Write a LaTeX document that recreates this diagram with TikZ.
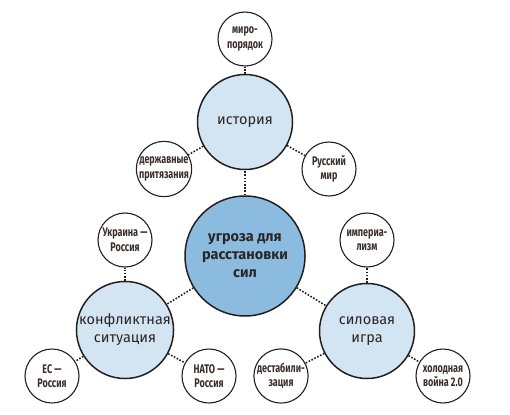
\documentclass[tikz,border=0pt]{standalone}
\usepackage{fontspec}
\setmainfont{Fira Sans}
\newfontfamily\condfont[FakeStretch=0.72,Ligatures=TeX]{Fira Sans}
\definecolor{centerfill}{HTML}{8BBCE0}
\definecolor{midfill}{HTML}{D3E5F3}
\definecolor{edge}{HTML}{231F20}
\definecolor{txt}{HTML}{2A2526}
\definecolor{leaftxt}{HTML}{3A2E2A}
\begin{document}
\begin{tikzpicture}[x=1pt,y=-1pt,
  bubble/.style={circle,draw=edge,line width=1.5pt,inner sep=0pt,align=center,text=txt},
  hub/.style={bubble,fill=centerfill,minimum size=120pt,font=\fontsize{14.5}{18}\selectfont\bfseries},
  midc/.style={bubble,fill=midfill,minimum size=95pt,font=\fontsize{14.5}{18}\selectfont},
  leaf/.style={bubble,fill=white,minimum size=54pt,line width=1.1pt,text=leaftxt,font=\condfont\fontsize{12.5}{14.5}\selectfont\bfseries},
  conn/.style={draw=edge,line width=1.6pt,dash pattern=on 1.6pt off 1.6pt}]
\useasboundingbox (0,0) rectangle (510,414);
\node[hub] (c) at (245,256) {угроза для\\расстановки\\сил};
\node[midc] (h) at (245,122) {история};
\node[midc] (k) at (125,330) {конфликтная\\ситуация};
\node[midc] (s) at (367,331) {силовая\\игра};
\node[leaf] (h1) at (245,39) {миро-\\порядок};
\node[leaf] (h2) at (164,169) {державные\\притязания};
\node[leaf] (h3) at (329,169) {Русский\\мир};
\node[leaf] (k1) at (125,240) {Украина —\\Россия};
\node[leaf] (k2) at (52,376) {ЕС —\\Россия};
\node[leaf] (k3) at (209,376) {НАТО —\\Россия};
\node[leaf] (s1) at (367,240) {империа-\\лизм};
\node[leaf] (s2) at (281,376) {дестабили-\\зация};
\node[leaf] (s3) at (443,376) {холодная\\война 2.0};
\draw[conn] (c) -- (h);
\draw[conn] (c) -- (k);
\draw[conn] (c) -- (s);
\draw[conn] (h) -- (h1);
\draw[conn] (h) -- (h2);
\draw[conn] (h) -- (h3);
\draw[conn] (k) -- (k1);
\draw[conn] (k) -- (k2);
\draw[conn] (k) -- (k3);
\draw[conn] (s) -- (s1);
\draw[conn] (s) -- (s2);
\draw[conn] (s) -- (s3);
\end{tikzpicture}
\end{document}
